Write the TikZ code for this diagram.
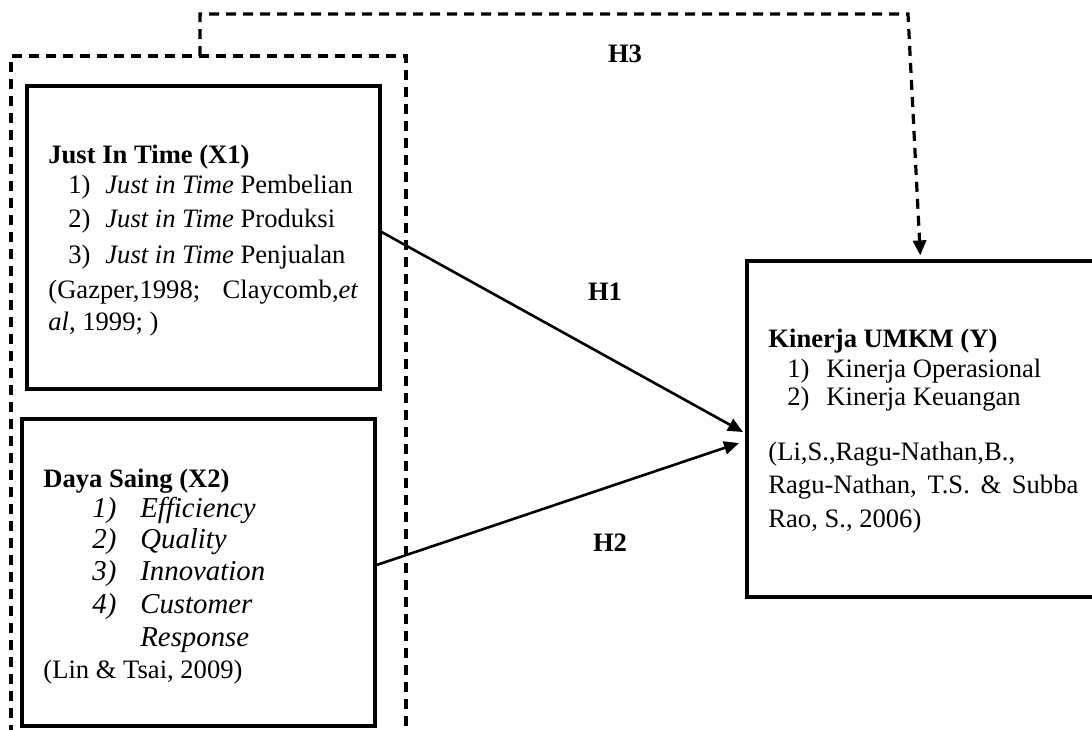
\documentclass[tikz,border=0pt]{standalone}
\usepackage{fontspec}
\setmainfont{Liberation Serif}
\usetikzlibrary{arrows.meta,fit}
\begin{document}
\begin{tikzpicture}[x=0.5pt,y=-0.5pt,
 box/.style={draw,line width=1.6pt,inner sep=0pt},
 dsh/.style={line width=1.6pt,dash pattern=on 5pt off 3.5pt},
 arr/.style={line width=1.3pt,-{Triangle[length=7.5pt,width=6.5pt]}},
 txt/.style={anchor=base west,inner sep=0pt,font=\fontsize{13.3}{16}\selectfont},
 big/.style={anchor=base west,inner sep=0pt,font=\fontsize{14.4}{17}\selectfont\itshape},
 lab/.style={anchor=base,inner sep=0pt,font=\fontsize{13.3}{16}\selectfont\bfseries}]
\useasboundingbox (0,0) rectangle (1092,729);
% boxes
\node[box,fit={(27,86) (380,389)}] (x1) {};
\node[box,fit={(22,419) (375,726)}] (x2) {};
\node[box,fit={(747,261) (1104,597)}] (ky) {};
% dashed group outline
\coordinate (gtl) at (11,56);
\coordinate (gtr) at (406,56);
\coordinate (h3s) at (200,56);
\draw[dsh] (11,735) -- (gtl) -- (gtr) -- (406,735);
% X1 text
\node[txt,font=\fontsize{13.3}{16}\selectfont\bfseries] (x1t) at (48,163) {Just In Time (X1)};
\node[txt] (x1a) at (68,193) {\makebox[18.5pt][l]{1)}\textit{Just in Time} Pembelian};
\node[txt] (x1b) at (68,227) {\makebox[18.5pt][l]{2)}\textit{Just in Time} Produksi};
\node[txt] (x1c) at (68,263) {\makebox[18.5pt][l]{3)}\textit{Just in Time} Penjualan};
\node[txt] (x1d) at (48,298) {\makebox[155pt][s]{(Gazper,1998;\hfill Claycomb,\textit{et}}};
\node[txt] (x1e) at (48,330) {\textit{al}, 1999; )};
% X2 text
\node[txt,font=\fontsize{13.3}{16}\selectfont\bfseries] (x2t) at (43,487) {Daya Saing (X2)};
\node[big] (x2a) at (92,517) {\makebox[24pt][l]{1)}Efficiency};
\node[big] (x2b) at (92,548) {\makebox[24pt][l]{2)}Quality};
\node[big] (x2c) at (92,580) {\makebox[24pt][l]{3)}Innovation};
\node[big] (x2d) at (92,613) {\makebox[24pt][l]{4)}Customer};
\node[big] (x2e) at (140,646) {Response};
\node[txt] (x2f) at (43,678) {(Lin \& Tsai, 2009)};
% Y text
\node[txt,font=\fontsize{13.3}{16}\selectfont\bfseries] (yt) at (768,347) {Kinerja UMKM (Y)};
\node[txt] (ya) at (787,377) {\makebox[19.5pt][l]{1)}Kinerja Operasional};
\node[txt] (yb) at (787,405) {\makebox[19.5pt][l]{2)}Kinerja Keuangan};
\node[txt] (yc) at (768,460) {(Li,S.,Ragu-Nathan,B.,};
\node[txt] (yd) at (768,493) {\makebox[155pt][s]{Ragu-Nathan,\hfill T.S.\hfill \&\hfill Subba}};
\node[txt] (ye) at (768,527) {Rao, S., 2006)};
% labels
\node[lab] (h1) at (605,300) {H1};
\node[lab] (h2) at (610,551) {H2};
\node[lab] (h3) at (625,62) {H3};
% connectors
\coordinate (t1) at (743,432);
\coordinate (t2) at (739,443);
\draw[arr] ([yshift=2.75pt]x1.east) -- (t1);
\draw[arr] ([yshift=3.75pt]x2.east) -- (t2);
\coordinate (c1) at (200,14);
\coordinate (c2) at (908,14);
\draw[dsh,arr,line width=1.6pt,shorten >=2pt] (h3s) -- (c1) -- (c2) -- ([xshift=-2.5pt]ky.north);
\end{tikzpicture}
\end{document}
